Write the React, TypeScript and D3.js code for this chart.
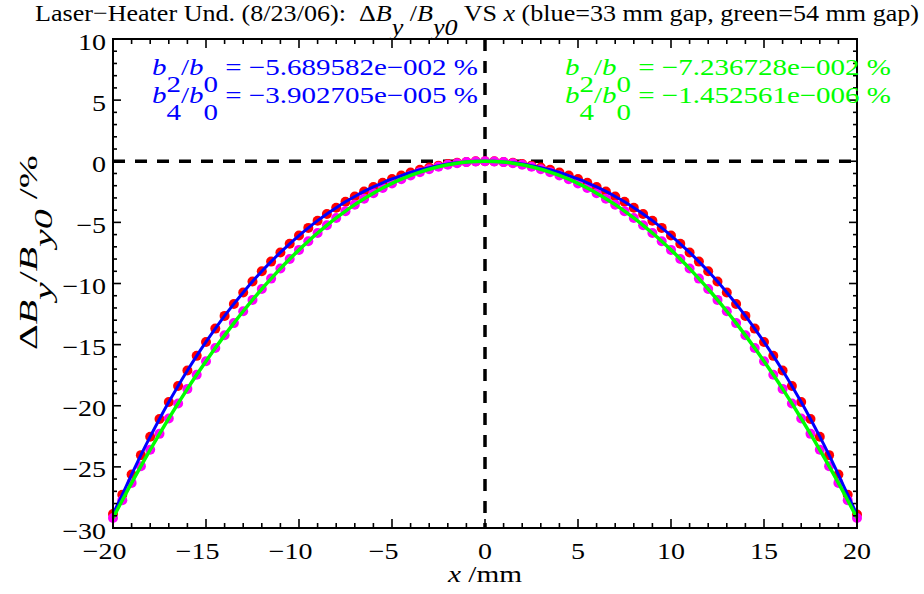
import React from "react";
import * as d3 from "d3";

// x positions of the measured points (mm)
const xValues = [
  -20, -19.5, -19, -18.5, -18, -17.5, -17, -16.5, -16, -15.5, -15, -14.5, -14, -13.5,
  -13, -12.5, -12, -11.5, -11, -10.5, -10, -9.5, -9, -8.5, -8, -7.5, -7, -6.5, -6, -5.5,
  -5, -4.5, -4, -3.5, -3, -2.5, -2, -1.5, -1, -0.5, 0, 0.5, 1, 1.5, 2, 2.5, 3, 3.5, 4,
  4.5, 5, 5.5, 6, 6.5, 7, 7.5, 8, 8.5, 9, 9.5, 10, 10.5, 11, 11.5, 12, 12.5, 13, 13.5,
  14, 14.5, 15, 15.5, 16, 16.5, 17, 17.5, 18, 18.5, 19, 19.5, 20,
];

// dBy/By0 (%) at 33 mm gap (red points, blue fit)
const gap33 = [
  -28.85, -27.28, -25.63, -24.04, -22.53, -21.08, -19.7, -18.38, -17.12, -15.92, -14.78,
  -13.69, -12.65, -11.67, -10.73, -9.84, -9.0, -8.21, -7.46, -6.75, -6.08, -5.45, -4.86,
  -4.31, -3.8, -3.32, -2.88, -2.47, -2.1, -1.76, -1.45, -1.17, -0.92, -0.7, -0.52, -0.36,
  -0.23, -0.13, -0.06, -0.01, 0, -0.01, -0.06, -0.13, -0.23, -0.36, -0.52, -0.7, -0.92,
  -1.17, -1.45, -1.76, -2.1, -2.47, -2.88, -3.32, -3.8, -4.31, -4.86, -5.45, -6.08, -6.75,
  -7.46, -8.21, -9.0, -9.84, -10.73, -11.67, -12.65, -13.69, -14.78, -15.92, -17.12,
  -18.38, -19.7, -21.08, -22.53, -24.04, -25.63, -27.28, -28.9,
];

// dBy/By0 (%) at 54 mm gap (magenta points, green fit)
const gap54 = [
  -29.18, -27.73, -26.31, -24.94, -23.6, -22.3, -21.04, -19.81, -18.62, -17.47, -16.36,
  -15.28, -14.24, -13.24, -12.27, -11.34, -10.45, -9.6, -8.78, -8.0, -7.25, -6.54, -5.87,
  -5.24, -4.64, -4.08, -3.55, -3.06, -2.61, -2.19, -1.81, -1.47, -1.16, -0.89, -0.65,
  -0.45, -0.29, -0.16, -0.07, -0.02, 0, -0.02, -0.07, -0.16, -0.29, -0.45, -0.65, -0.89,
  -1.16, -1.47, -1.81, -2.19, -2.61, -3.06, -3.55, -4.08, -4.64, -5.24, -5.87, -6.54,
  -7.25, -8.0, -8.78, -9.6, -10.45, -11.34, -12.27, -13.24, -14.24, -15.28, -16.36,
  -17.47, -18.62, -19.81, -21.04, -22.3, -23.6, -24.94, -26.31, -27.73, -29.18,
];

const xTicks = [-20, -15, -10, -5, 0, 5, 10, 15, 20];
const yTicks = [-30, -25, -20, -15, -10, -5, 0, 5, 10];
const coefs33 = ["−5.689582e−002", "−3.902705e−005"];
const coefs54 = ["−7.236728e−002", "−1.452561e−006"];
const coefOrders = ["2", "4"];

const W = 924;
const H = 594;
const box = { left: 113, right: 857, top: 39, bottom: 528 };
const FONT = '"Liberation Serif", "Times New Roman", Times, serif';
const FS = 23;
const SX = 1.22; // glyphs in the picture are a bit wide

const fmt = (v: number) => (v < 0 ? "−" + Math.abs(v) : String(v));

function Coef({ x0, y0, color, order, value }: any) {
  return (
    <text x={x0} y={y0} fill={color} fontSize={FS} textLength={326} lengthAdjust="spacingAndGlyphs">
      <tspan fontStyle="italic">b</tspan>
      <tspan dy={17}>{order}</tspan>
      <tspan dy={-17}>/</tspan>
      <tspan fontStyle="italic">b</tspan>
      <tspan dy={17}>0</tspan>
      <tspan dy={-17}>{` = ${value} %`}</tspan>
    </text>
  );
}

export default function App() {
  const x = d3.scaleLinear().domain([-20, 20]).range([box.left, box.right]);
  const y = d3.scaleLinear().domain([-30, 10]).range([box.bottom, box.top]);

  const line = (vals: number[]) =>
    d3
      .line<number>()
      .x((d, i) => x(xValues[i]))
      .y((d) => y(d))
      .curve(d3.curveCatmullRom)(vals) || "";

  const minorX = d3.range(-20, 21, 1).filter((v) => v % 5 !== 0);
  const minorY = d3.range(-30, 11, 1).filter((v) => v % 5 !== 0);

  return (
    <svg
      width={W}
      height={H}
      style={{ position: "absolute", left: 0, top: 0, background: "#fff", fontFamily: FONT }}
    >
      {/* zero lines */}
      <g stroke="#000" strokeWidth={3.5} strokeDasharray="12,10" fill="none">
        <line x1={box.left} x2={box.right} y1={y(0)} y2={y(0)} />
        <line x1={x(0)} x2={x(0)} y1={box.top} y2={box.bottom} />
      </g>

      {/* points */}
      <g fill="#ff0000">
        {gap33.map((d, i) => (
          <circle key={i} cx={x(xValues[i])} cy={y(d)} r={5} />
        ))}
      </g>
      <g fill="#ff00ff">
        {gap54.map((d, i) => (
          <circle key={i} cx={x(xValues[i])} cy={y(d)} r={5} />
        ))}
      </g>

      {/* fits */}
      <path d={line(gap33)} fill="none" stroke="#0000ff" strokeWidth={3} />
      <path d={line(gap54)} fill="none" stroke="#00ff00" strokeWidth={3.5} />

      {/* axes box and ticks */}
      <g stroke="#000" strokeWidth={1.6}>
        {xTicks.map((t) => (
          <g key={"xt" + t}>
            <line x1={x(t)} x2={x(t)} y1={box.bottom} y2={box.bottom - 9} />
            <line x1={x(t)} x2={x(t)} y1={box.top} y2={box.top + 9} />
          </g>
        ))}
        {minorX.map((t) => (
          <g key={"xm" + t}>
            <line x1={x(t)} x2={x(t)} y1={box.bottom} y2={box.bottom - 5} />
            <line x1={x(t)} x2={x(t)} y1={box.top} y2={box.top + 5} />
          </g>
        ))}
        {yTicks.map((t) => (
          <g key={"yt" + t}>
            <line x1={box.left} x2={box.left + 8} y1={y(t)} y2={y(t)} />
            <line x1={box.right} x2={box.right - 8} y1={y(t)} y2={y(t)} />
          </g>
        ))}
        {minorY.map((t) => (
          <g key={"ym" + t}>
            <line x1={box.left} x2={box.left + 4} y1={y(t)} y2={y(t)} />
            <line x1={box.right} x2={box.right - 4} y1={y(t)} y2={y(t)} />
          </g>
        ))}
      </g>
      <rect
        x={box.left}
        y={box.top}
        width={box.right - box.left}
        height={box.bottom - box.top}
        fill="none"
        stroke="#000"
        strokeWidth={2}
      />

      {/* tick labels */}
      <g fontSize={FS} fill="#000">
        {xTicks.map((t) => (
          <text
            key={"xl" + t}
            transform={`translate(${x(t) - (t < 0 ? 8.5 : 0)},559) scale(${SX},1)`}
            textAnchor="middle"
          >
            {fmt(t)}
          </text>
        ))}
        {yTicks.map((t) => (
          <text key={"yl" + t} transform={`translate(106,${y(t) + 10.5}) scale(${SX},1)`} textAnchor="end">
            {fmt(t)}
          </text>
        ))}
      </g>

      {/* axis titles */}
      <text x={448} y={582} fontSize={FS} textLength={74} lengthAdjust="spacingAndGlyphs">
        <tspan fontStyle="italic">x</tspan>
        <tspan>{" /mm"}</tspan>
      </text>
      <text
        transform="translate(37,350) rotate(-90)"
        fontSize={26}
        textLength={195}
        lengthAdjust="spacingAndGlyphs"
      >
        <tspan>Δ</tspan>
        <tspan fontStyle="italic">B</tspan>
        <tspan dy={15} fontStyle="italic">y</tspan>
        <tspan dy={-15}>/</tspan>
        <tspan fontStyle="italic">B</tspan>
        <tspan dy={15} fontStyle="italic">y0</tspan>
        <tspan dy={-15}>{" /%"}</tspan>
      </text>

      {/* title */}
      <text x={35} y={21} fontSize={24} textLength={884} lengthAdjust="spacingAndGlyphs" style={{ whiteSpace: "pre" }}>
        <tspan>{"Laser−Heater Und. (8/23/06):  Δ"}</tspan>
        <tspan fontStyle="italic">B</tspan>
        <tspan dy={14} fontStyle="italic">y</tspan>
        <tspan dy={-14}>{" /"}</tspan>
        <tspan fontStyle="italic">B</tspan>
        <tspan dy={14} fontStyle="italic">y0</tspan>
        <tspan dy={-14}>{" VS "}</tspan>
        <tspan fontStyle="italic">x</tspan>
        <tspan>{" (blue=33 mm gap, green=54 mm gap)"}</tspan>
      </text>

      {/* coefficients */}
      {coefs33.map((v, i) => (
        <Coef key={"b" + i} x0={152} y0={75 + i * 28} color="#0000ff" order={coefOrders[i]} value={v} />
      ))}
      {coefs54.map((v, i) => (
        <Coef key={"g" + i} x0={565} y0={75 + i * 28} color="#00ff00" order={coefOrders[i]} value={v} />
      ))}
    </svg>
  );
}
